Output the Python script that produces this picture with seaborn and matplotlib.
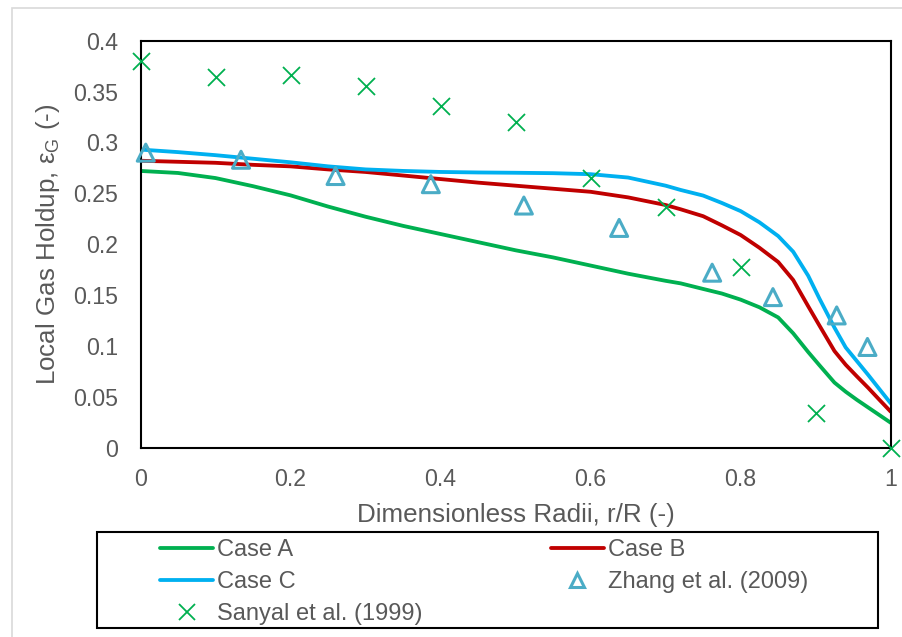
import matplotlib
matplotlib.use("Agg")
import matplotlib.pyplot as plt
from matplotlib.lines import Line2D
from matplotlib.patches import Rectangle
import seaborn as sns

# Radial position r/R for the simulated profiles
r_model = [0, 0.05, 0.1, 0.15, 0.2, 0.25, 0.3, 0.35, 0.4, 0.45, 0.5, 0.55, 0.6,
           0.65, 0.7, 0.72, 0.75, 0.775, 0.8, 0.825, 0.85, 0.87, 0.89, 0.905,
           0.925, 0.94, 0.955, 0.97, 0.985, 1.0]
case_a = [0.272, 0.270, 0.265, 0.257, 0.248, 0.237, 0.227, 0.218, 0.210, 0.202,
          0.194, 0.187, 0.179, 0.171, 0.164, 0.1615, 0.156, 0.1515, 0.1455, 0.138,
          0.128, 0.1124, 0.094, 0.081, 0.064, 0.055, 0.047, 0.0395, 0.032, 0.0245]
case_b = [0.282, 0.281, 0.280, 0.278, 0.2765, 0.2735, 0.271, 0.2675, 0.264, 0.2605,
          0.2575, 0.2545, 0.2515, 0.246, 0.2385, 0.2343, 0.2275, 0.2185, 0.209, 0.1965,
          0.1825, 0.1648, 0.139, 0.120, 0.095, 0.0815, 0.070, 0.0588, 0.047, 0.0354]
case_c = [0.293, 0.2905, 0.2875, 0.284, 0.2805, 0.2765, 0.2735, 0.272, 0.271, 0.2705,
          0.2702, 0.2698, 0.2688, 0.2655, 0.2575, 0.2533, 0.2478, 0.2405, 0.2325, 0.2215,
          0.208, 0.1926, 0.169, 0.1465, 0.118, 0.0985, 0.085, 0.0715, 0.0575, 0.0436]

# Experimental data
r_zhang = [0.007, 0.134, 0.260, 0.387, 0.511, 0.638, 0.762, 0.843, 0.928, 0.969]
eg_zhang = [0.290, 0.283, 0.267, 0.259, 0.238, 0.216, 0.172, 0.148, 0.130, 0.099]
r_sanyal = [0.0, 0.1, 0.2, 0.3, 0.4, 0.5, 0.6, 0.7, 0.8, 0.9, 1.0]
eg_sanyal = [0.380, 0.364, 0.366, 0.355, 0.336, 0.320, 0.265, 0.237, 0.178, 0.034, 0.0]

labels = ["Case A", "Case B", "Case C", "Zhang et al. (2009)", "Sanyal et al. (1999)"]
x_ticks = [0, 0.2, 0.4, 0.6, 0.8, 1.0]
y_ticks = [0, 0.05, 0.1, 0.15, 0.2, 0.25, 0.3, 0.35, 0.4]

GREEN, RED, BLUE, TEAL = "#00B050", "#C00000", "#00B0F0", "#4BACC6"
TXT = "#595959"
TICK_FS, LEG_FS, TITLE_FS = 16.7, 17, 18.7

sns.set_theme(style="white")
plt.rcParams["font.family"] = ["Liberation Sans", "DejaVu Sans"]
plt.rcParams["mathtext.fontset"] = "custom"
plt.rcParams["mathtext.rm"] = "Liberation Sans"
plt.rcParams["mathtext.it"] = "Liberation Sans:italic"

fig = plt.figure(figsize=(9.03, 6.37), dpi=100)
ax = fig.add_axes([0.1556, 0.2972, 0.8308, 0.6389])

lw = 2.75
sns.lineplot(x=r_model, y=case_a, ax=ax, color=GREEN, lw=lw, sort=False)
sns.lineplot(x=r_model, y=case_b, ax=ax, color=RED, lw=lw, sort=False)
sns.lineplot(x=r_model, y=case_c, ax=ax, color=BLUE, lw=lw, sort=False)
sns.scatterplot(x=r_zhang, y=eg_zhang, ax=ax, marker="^", s=150,
                facecolors="none", edgecolors=TEAL, linewidths=2.2,
                color=TEAL, zorder=4, clip_on=False)
sns.scatterplot(x=r_sanyal, y=eg_sanyal, ax=ax, marker="x", s=150,
                color=GREEN, linewidths=1.3, zorder=5, clip_on=False)

ax.set_xlim(0, 1)
ax.set_ylim(0, 0.4)
ax.set_xticks(x_ticks)
ax.set_xticklabels([f"{v:g}" for v in x_ticks])
ax.set_yticks(y_ticks)
ax.set_yticklabels([f"{v:g}" for v in y_ticks])
ax.tick_params(axis="x", length=0, pad=14.5, labelsize=TICK_FS, labelcolor=TXT)
ax.tick_params(axis="y", length=0, pad=16, labelsize=TICK_FS, labelcolor=TXT)
for sp in ax.spines.values():
    sp.set_color("black")
    sp.set_linewidth(1.5)
    sp.set_visible(True)

ax.set_xlabel("Dimensionless Radii, r/R (-)", fontsize=TITLE_FS, color=TXT)
ax.set_ylabel(r"Local Gas Holdup, ε$_{\mathrm{G}}$ (-)", fontsize=TITLE_FS, color=TXT)
ax.xaxis.set_label_coords(0.5, -0.135)
ax.yaxis.set_label_coords(-0.104, 0.5)

# Legend (row-wise order across two columns)
h_a = Line2D([], [], color=GREEN, lw=lw)
h_b = Line2D([], [], color=RED, lw=lw)
h_c = Line2D([], [], color=BLUE, lw=lw)
h_z = Line2D([], [], ls="none", marker="^", ms=9.5, mfc="none", mec=TEAL, mew=2.2)
h_s = Line2D([], [], ls="none", marker="x", ms=11, color=GREEN, mew=1.3)
fig.legend([h_a, h_c, h_s, h_b, h_z],
           [labels[0], labels[2], labels[4], labels[1], labels[3]],
           ncol=2, loc="upper left", bbox_to_anchor=(160 / 903, 0.1535),
           frameon=False, fontsize=LEG_FS, labelcolor=TXT, borderpad=0,
           borderaxespad=0, handlelength=2.25, handletextpad=0.15,
           labelspacing=0.415, columnspacing=5.45)
fig.add_artist(Rectangle((96.7 / 903, (637 - 627.7) / 637),
                         (878.3 - 96.7) / 903, (627.7 - 532) / 637,
                         transform=fig.transFigure, fill=False,
                         ec="black", lw=1.5))

# Chart area border
fig.add_artist(Rectangle((12 / 903, -0.05), 1.0, (637 - 8) / 637 + 0.05,
                         transform=fig.transFigure, fill=False,
                         ec="#D9D9D9", lw=1.2))

fig.savefig("out.png", dpi=100)
